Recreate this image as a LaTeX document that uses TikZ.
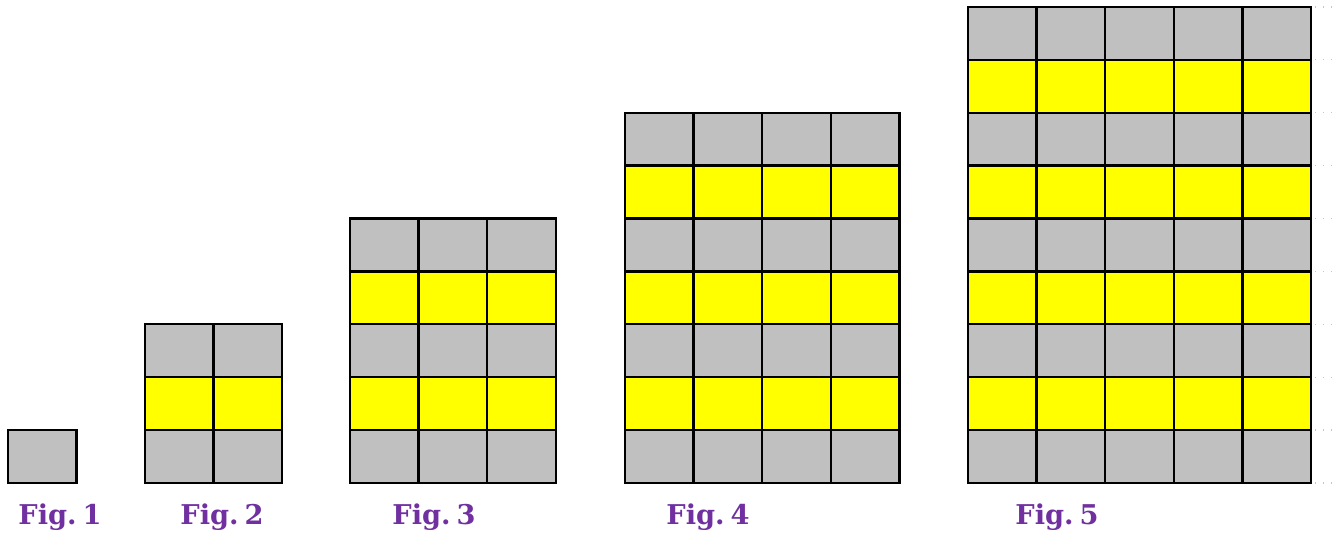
\documentclass[tikz,border=0pt]{standalone}
\usepackage{fontspec}
\newfontfamily\labelfont{DejaVu Serif}

\definecolor{cellgrey}{HTML}{C0C0C0}
\definecolor{cellyellow}{HTML}{FFFF00}
\definecolor{figpurple}{HTML}{7030A0}

\tikzset{
	cell/.style = {draw = black, line width = 1.3pt},
	figlabel/.style = {font = \labelfont\bfseries\fontsize{15.5}{18}\selectfont, text = figpurple, anchor = base},
	edgetick/.style = {draw = gray!45, line width = 0.7pt, dash pattern = on 0.7pt off 3.8pt}
}

\begin{document}
\begin{tikzpicture}
		%\draw[gray, dotted] (0, 0) grid (27, 11);
		\useasboundingbox (0, 0) rectangle (26.68, 10.64);
		% the five grids: figure n has n columns and 2n-1 rows
		\foreach \n/\x in {1/0.16, 2/2.9, 3/7.0, 4/12.5, 5/19.36} {
			\pgfmathtruncatemacro{\rows}{2*\n - 1}
			\foreach \r in {1, ..., \rows} {
				\foreach \c in {1, ..., \n} {
					\ifodd\r \def\cellfill{cellgrey}\else \def\cellfill{cellyellow}\fi
					\draw[cell, fill = \cellfill] ({\x + (\c - 1)*1.372}, {0.98 + (\r - 1)*1.058}) rectangle ++(1.372, 1.058);
				}
			}
		}
		% faint marks at the right edge
		\foreach \k in {0, ..., 9}
			\draw[edgetick] (26.3, {0.98 + \k*1.058}) -- (26.68, {0.98 + \k*1.058});
		% labels
		\foreach \n/\x in {1/1.2, 2/4.44, 3/8.68, 4/14.16, 5/21.14}
			\node[figlabel] (fig\n) at (\x, 0.16) {Fig.\hspace{0.22em}\n};
	\end{tikzpicture}
\end{document}
